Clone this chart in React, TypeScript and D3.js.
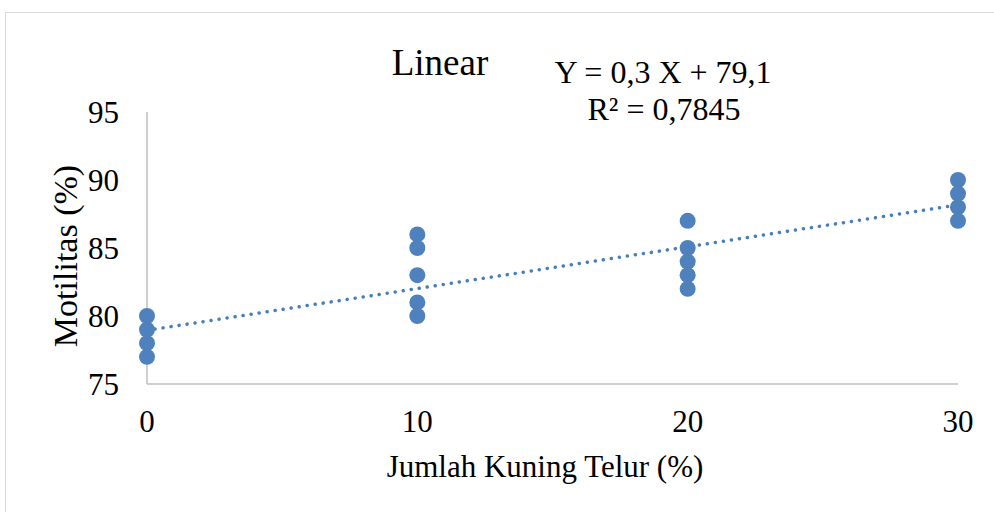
import React, { useEffect, useRef } from "react";
import * as d3 from "d3";

const xLevels = [0, 10, 20, 30];
const motilityAt0 = [80, 79, 78, 77];
const motilityAt10 = [86, 85, 83, 81, 80];
const motilityAt20 = [87, 85, 84, 83, 82];
const motilityAt30 = [90, 89, 88, 87];
const yTicks = [75, 80, 85, 90, 95];
const equationText = "Y = 0,3 X + 79,1";
const r2Text = "R² = 0,7845";

export default function App() {
  const ref = useRef<SVGSVGElement>(null);

  useEffect(() => {
    const svg = d3.select(ref.current);
    svg.selectAll("*").remove();
    const font = "'Liberation Serif', 'Times New Roman', serif";

    const left = 147, right = 958, top = 112, bottom = 384;
    const x = d3.scaleLinear().domain([0, 30]).range([left, right]);
    const y = d3.scaleLinear().domain([75, 95]).range([bottom, top]);

    const groups = [motilityAt0, motilityAt10, motilityAt20, motilityAt30];
    const points = groups.flatMap((vals, i) => vals.map((v) => ({ x: xLevels[i], y: v })));

    // outer frame
    svg.append("rect")
      .attr("x", 5.5).attr("y", 12.5)
      .attr("width", 1000).attr("height", 600)
      .attr("fill", "white").attr("stroke", "#d9d9d9");

    // axes lines
    svg.append("line")
      .attr("x1", left).attr("x2", left).attr("y1", top).attr("y2", bottom)
      .attr("stroke", "#bfbfbf").attr("stroke-width", 1.5);
    svg.append("line")
      .attr("x1", left).attr("x2", right).attr("y1", bottom).attr("y2", bottom)
      .attr("stroke", "#bfbfbf").attr("stroke-width", 1.5);

    svg.append("g").selectAll("text")
      .data(yTicks).enter().append("text")
      .attr("x", 119).attr("y", (d) => y(d) + 11)
      .attr("text-anchor", "end")
      .attr("font-family", font).attr("font-size", 31)
      .text((d) => d);

    svg.append("g").selectAll("text")
      .data(xLevels).enter().append("text")
      .attr("x", (d) => x(d)).attr("y", 432)
      .attr("text-anchor", "middle")
      .attr("font-family", font).attr("font-size", 31)
      .text((d) => d);

    // trendline from least squares
    const mx = d3.mean(points, (p) => p.x)!;
    const my = d3.mean(points, (p) => p.y)!;
    const sxy = d3.sum(points, (p) => (p.x - mx) * (p.y - my));
    const sxx = d3.sum(points, (p) => (p.x - mx) ** 2);
    const slope = sxy / sxx;
    const icpt = my - slope * mx;

    svg.append("line")
      .attr("x1", x(0)).attr("y1", y(icpt))
      .attr("x2", x(30)).attr("y2", y(icpt + slope * 30))
      .attr("stroke", "#4a7ebb").attr("stroke-width", 3.5)
      .attr("stroke-linecap", "round")
      .attr("stroke-dasharray", "0.1 8");

    svg.append("g").selectAll("circle")
      .data(points).enter().append("circle")
      .attr("cx", (d) => x(d.x)).attr("cy", (d) => y(d.y))
      .attr("r", 8)
      .attr("fill", "#4f81bd");

    svg.append("text")
      .attr("x", 440).attr("y", 75)
      .attr("text-anchor", "middle")
      .attr("font-family", font).attr("font-size", 37)
      .text("Linear");

    svg.append("text")
      .attr("x", 663).attr("y", 83)
      .attr("text-anchor", "middle")
      .attr("font-family", font).attr("font-size", 32)
      .text(equationText);
    svg.append("text")
      .attr("x", 664).attr("y", 120)
      .attr("text-anchor", "middle")
      .attr("font-family", font).attr("font-size", 32)
      .text(r2Text);

    svg.append("text")
      .attr("transform", "translate(77,256) rotate(-90)")
      .attr("text-anchor", "middle")
      .attr("font-family", font).attr("font-size", 34)
      .text("Motilitas (%)");

    svg.append("text")
      .attr("x", 545).attr("y", 477)
      .attr("text-anchor", "middle")
      .attr("font-family", font).attr("font-size", 31)
      .text("Jumlah Kuning Telur (%)");
  }, []);

  return (
    <svg
      ref={ref}
      width={994}
      height={512}
      style={{ position: "absolute", left: 0, top: 0, background: "white" }}
    />
  );
}
